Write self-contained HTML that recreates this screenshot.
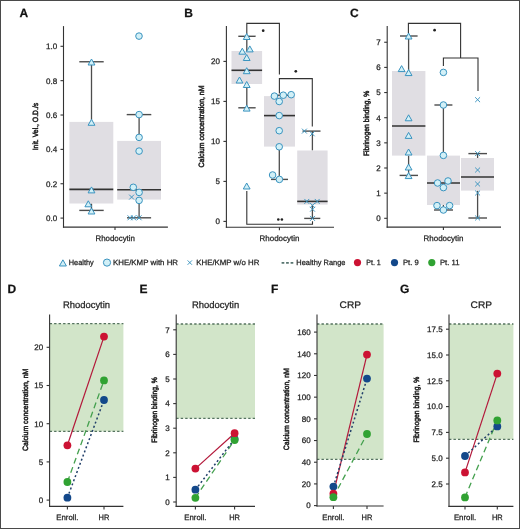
<!DOCTYPE html>
<html><head><meta charset="utf-8"><style>
html,body{margin:0;padding:0;background:#fff;}
#f{position:relative;width:520px;height:529px;overflow:hidden;background:#fff;}
svg{position:absolute;left:0;top:0;will-change:transform;}
svg text{font-family:"Liberation Sans", sans-serif;stroke:#222;stroke-width:0.25px;text-rendering:geometricPrecision;} svg text.rl{stroke-width:0.5px;}
</style></head><body><div id="f">
<svg width="520" height="529" viewBox="0 0 520 529">
<rect x="0" y="0" width="520" height="529" fill="#fff"/>
<text x="19.4" y="17.2" font-size="12" text-anchor="start" font-weight="bold" fill="#111">A</text>
<line x1="91.5" y1="61.76" x2="91.5" y2="121.89" stroke="#4d4d4d" stroke-width="1.3" stroke-linecap="butt"/>
<line x1="91.5" y1="203.5" x2="91.5" y2="210.4" stroke="#4d4d4d" stroke-width="1.3" stroke-linecap="butt"/>
<rect x="69.4" y="121.89" width="43.9" height="81.61" fill="#e0dee3"/>
<line x1="69.4" y1="189.4" x2="113.3" y2="189.4" stroke="#333333" stroke-width="1.6" stroke-linecap="butt"/>
<line x1="79.3" y1="61.76" x2="103.7" y2="61.76" stroke="#4d4d4d" stroke-width="1.4" stroke-linecap="butt"/>
<line x1="79.3" y1="210.4" x2="103.7" y2="210.4" stroke="#4d4d4d" stroke-width="1.4" stroke-linecap="butt"/>
<line x1="139.1" y1="114.6" x2="139.1" y2="140.9" stroke="#4d4d4d" stroke-width="1.3" stroke-linecap="butt"/>
<line x1="139.1" y1="199.6" x2="139.1" y2="217.8" stroke="#4d4d4d" stroke-width="1.3" stroke-linecap="butt"/>
<rect x="117.2" y="140.9" width="43.8" height="58.7" fill="#e0dee3"/>
<line x1="117.2" y1="189.7" x2="161.0" y2="189.7" stroke="#333333" stroke-width="1.6" stroke-linecap="butt"/>
<line x1="126.7" y1="114.6" x2="151.3" y2="114.6" stroke="#4d4d4d" stroke-width="1.4" stroke-linecap="butt"/>
<line x1="127.0" y1="217.8" x2="151.1" y2="217.8" stroke="#4d4d4d" stroke-width="1.4" stroke-linecap="butt"/>
<line x1="63.5" y1="26.1" x2="63.5" y2="227.65" stroke="#333333" stroke-width="1.1" stroke-linecap="butt"/>
<line x1="60.5" y1="218.1" x2="63.5" y2="218.1" stroke="#333333" stroke-width="1.1" stroke-linecap="butt"/>
<text x="57.1" y="220.95" font-size="8" text-anchor="end" font-weight="normal" fill="#222222">0.0</text>
<line x1="60.5" y1="183.74" x2="63.5" y2="183.74" stroke="#333333" stroke-width="1.1" stroke-linecap="butt"/>
<text x="57.1" y="186.59" font-size="8" text-anchor="end" font-weight="normal" fill="#222222">0.2</text>
<line x1="60.5" y1="149.38" x2="63.5" y2="149.38" stroke="#333333" stroke-width="1.1" stroke-linecap="butt"/>
<text x="57.1" y="152.23" font-size="8" text-anchor="end" font-weight="normal" fill="#222222">0.4</text>
<line x1="60.5" y1="115.02" x2="63.5" y2="115.02" stroke="#333333" stroke-width="1.1" stroke-linecap="butt"/>
<text x="57.1" y="117.87" font-size="8" text-anchor="end" font-weight="normal" fill="#222222">0.6</text>
<line x1="60.5" y1="80.66" x2="63.5" y2="80.66" stroke="#333333" stroke-width="1.1" stroke-linecap="butt"/>
<text x="57.1" y="83.51" font-size="8" text-anchor="end" font-weight="normal" fill="#222222">0.8</text>
<line x1="60.5" y1="46.3" x2="63.5" y2="46.3" stroke="#333333" stroke-width="1.1" stroke-linecap="butt"/>
<text x="57.1" y="49.15" font-size="8" text-anchor="end" font-weight="normal" fill="#222222">1.0</text>
<line x1="62.95" y1="227.1" x2="167.9" y2="227.1" stroke="#333333" stroke-width="1.1" stroke-linecap="butt"/>
<line x1="115" y1="227.1" x2="115" y2="230.1" stroke="#333333" stroke-width="1.1" stroke-linecap="butt"/>
<text x="115.2" y="241" font-size="8" text-anchor="middle" font-weight="normal" fill="#222222" textLength="39.5" lengthAdjust="spacingAndGlyphs">Rhodocytin</text>
<path d="M91.5,59.01 L94.90,64.99 L88.10,64.99 Z" fill="#d2f0f7" stroke="#3a93bf" stroke-width="1" stroke-linejoin="miter"/>
<path d="M91.5,119.31 L94.90,125.29 L88.10,125.29 Z" fill="#d2f0f7" stroke="#3a93bf" stroke-width="1" stroke-linejoin="miter"/>
<path d="M91.5,186.91 L94.90,192.89 L88.10,192.89 Z" fill="#d2f0f7" stroke="#3a93bf" stroke-width="1" stroke-linejoin="miter"/>
<path d="M88.3,200.81 L91.70,206.79 L84.90,206.79 Z" fill="#d2f0f7" stroke="#3a93bf" stroke-width="1" stroke-linejoin="miter"/>
<path d="M91.5,208.01 L94.90,213.99 L88.10,213.99 Z" fill="#d2f0f7" stroke="#3a93bf" stroke-width="1" stroke-linejoin="miter"/>
<circle cx="139" cy="36.1" r="3.3" fill="#d2f0f7" stroke="#3a93bf" stroke-width="1"/>
<circle cx="139.1" cy="114.6" r="3.3" fill="#d2f0f7" stroke="#3a93bf" stroke-width="1"/>
<circle cx="139.1" cy="137.4" r="3.3" fill="#d2f0f7" stroke="#3a93bf" stroke-width="1"/>
<circle cx="139.1" cy="151.1" r="3.3" fill="#d2f0f7" stroke="#3a93bf" stroke-width="1"/>
<circle cx="133.3" cy="187.3" r="3.3" fill="#d2f0f7" stroke="#3a93bf" stroke-width="1"/>
<circle cx="139.1" cy="192.4" r="3.3" fill="#d2f0f7" stroke="#3a93bf" stroke-width="1"/>
<circle cx="139.1" cy="200.4" r="3.3" fill="#d2f0f7" stroke="#3a93bf" stroke-width="1"/>
<path d="M129.15,194.65 L134.05,199.55 M129.15,199.55 L134.05,194.65" stroke="#3a93bf" stroke-width="0.95"/>
<path d="M127.55,215.35 L132.45,220.25 M127.55,220.25 L132.45,215.35" stroke="#3a93bf" stroke-width="0.95"/>
<path d="M131.15,215.35 L136.05,220.25 M131.15,220.25 L136.05,215.35" stroke="#3a93bf" stroke-width="0.95"/>
<path d="M136.65,215.35 L141.55,220.25 M136.65,220.25 L141.55,215.35" stroke="#3a93bf" stroke-width="0.95"/>
<text x="38.2" y="126.5" font-size="7.6" text-anchor="middle" font-weight="normal" fill="#222222" textLength="47.6" lengthAdjust="spacingAndGlyphs" transform="rotate(-90 38.2 126.5)" class="rl">Init. Vel., O.D./s</text>
<text x="184.2" y="17.2" font-size="12" text-anchor="start" font-weight="bold" fill="#111">B</text>
<line x1="246.8" y1="36.3" x2="246.8" y2="51.0" stroke="#4d4d4d" stroke-width="1.3" stroke-linecap="butt"/>
<line x1="246.8" y1="84.0" x2="246.8" y2="107.8" stroke="#4d4d4d" stroke-width="1.3" stroke-linecap="butt"/>
<rect x="231.5" y="51.0" width="30.6" height="33.0" fill="#e0dee3"/>
<line x1="231.5" y1="70.3" x2="262.1" y2="70.3" stroke="#333333" stroke-width="1.6" stroke-linecap="butt"/>
<line x1="238.3" y1="36.3" x2="255.6" y2="36.3" stroke="#4d4d4d" stroke-width="1.4" stroke-linecap="butt"/>
<line x1="238.3" y1="107.8" x2="255.6" y2="107.8" stroke="#4d4d4d" stroke-width="1.4" stroke-linecap="butt"/>
<line x1="279.3" y1="95.2" x2="279.3" y2="96.1" stroke="#4d4d4d" stroke-width="1.3" stroke-linecap="butt"/>
<line x1="279.3" y1="146.6" x2="279.3" y2="179.4" stroke="#4d4d4d" stroke-width="1.3" stroke-linecap="butt"/>
<rect x="264.0" y="96.1" width="31.0" height="50.5" fill="#e0dee3"/>
<line x1="264.0" y1="115.6" x2="295.0" y2="115.6" stroke="#333333" stroke-width="1.6" stroke-linecap="butt"/>
<line x1="271.0" y1="95.2" x2="288.0" y2="95.2" stroke="#4d4d4d" stroke-width="1.4" stroke-linecap="butt"/>
<line x1="271.0" y1="179.4" x2="288.0" y2="179.4" stroke="#4d4d4d" stroke-width="1.4" stroke-linecap="butt"/>
<line x1="312.4" y1="131.1" x2="312.4" y2="150.5" stroke="#4d4d4d" stroke-width="1.3" stroke-linecap="butt"/>
<line x1="312.4" y1="204.6" x2="312.4" y2="218.4" stroke="#4d4d4d" stroke-width="1.3" stroke-linecap="butt"/>
<rect x="297.2" y="150.5" width="30.4" height="54.1" fill="#e0dee3"/>
<line x1="297.2" y1="201.4" x2="327.6" y2="201.4" stroke="#333333" stroke-width="1.6" stroke-linecap="butt"/>
<line x1="302.5" y1="131.1" x2="320.5" y2="131.1" stroke="#4d4d4d" stroke-width="1.4" stroke-linecap="butt"/>
<line x1="304.2" y1="218.4" x2="320.3" y2="218.4" stroke="#4d4d4d" stroke-width="1.4" stroke-linecap="butt"/>
<line x1="226.4" y1="26.1" x2="226.4" y2="227.75" stroke="#333333" stroke-width="1.1" stroke-linecap="butt"/>
<line x1="223.4" y1="221.4" x2="226.4" y2="221.4" stroke="#333333" stroke-width="1.1" stroke-linecap="butt"/>
<text x="220.0" y="224.25" font-size="8" text-anchor="end" font-weight="normal" fill="#222222">0</text>
<line x1="223.4" y1="181.4" x2="226.4" y2="181.4" stroke="#333333" stroke-width="1.1" stroke-linecap="butt"/>
<text x="220.0" y="184.25" font-size="8" text-anchor="end" font-weight="normal" fill="#222222">5</text>
<line x1="223.4" y1="141.4" x2="226.4" y2="141.4" stroke="#333333" stroke-width="1.1" stroke-linecap="butt"/>
<text x="220.0" y="144.25" font-size="8" text-anchor="end" font-weight="normal" fill="#222222">10</text>
<line x1="223.4" y1="101.4" x2="226.4" y2="101.4" stroke="#333333" stroke-width="1.1" stroke-linecap="butt"/>
<text x="220.0" y="104.25" font-size="8" text-anchor="end" font-weight="normal" fill="#222222">15</text>
<line x1="223.4" y1="61.4" x2="226.4" y2="61.4" stroke="#333333" stroke-width="1.1" stroke-linecap="butt"/>
<text x="220.0" y="64.25" font-size="8" text-anchor="end" font-weight="normal" fill="#222222">20</text>
<line x1="225.85" y1="227.2" x2="334" y2="227.2" stroke="#333333" stroke-width="1.1" stroke-linecap="butt"/>
<line x1="279.4" y1="227.2" x2="279.4" y2="230.2" stroke="#333333" stroke-width="1.1" stroke-linecap="butt"/>
<text x="279.5" y="241" font-size="8" text-anchor="middle" font-weight="normal" fill="#222222" textLength="39.8" lengthAdjust="spacingAndGlyphs">Rhodocytin</text>
<text x="203.6" y="126.5" font-size="7.7" text-anchor="middle" font-weight="normal" fill="#222222" textLength="81.9" lengthAdjust="spacingAndGlyphs" transform="rotate(-90 203.6 126.5)" class="rl">Calcium concentration, nM</text>
<path d="M246.8,34 V23.4 H279.4 V74.4" stroke="#333333" stroke-width="1.1" fill="none"/>
<path d="M279.4,93.5 V78.6 H312.3 V126.4" stroke="#333333" stroke-width="1.1" fill="none"/>
<path d="M246.8,191 V224.2 H312.5 V221.3" stroke="#333333" stroke-width="1.1" fill="none"/>
<circle cx="263.2" cy="30.7" r="1.35" fill="#222"/>
<circle cx="295.8" cy="71.3" r="1.35" fill="#222"/>
<circle cx="278.3" cy="219.5" r="1.3" fill="#222"/>
<circle cx="281.9" cy="219.5" r="1.3" fill="#222"/>
<path d="M246.7,33.51 L250.10,39.49 L243.30,39.49 Z" fill="#d2f0f7" stroke="#3a93bf" stroke-width="1" stroke-linejoin="miter"/>
<path d="M242.3,48.21 L245.70,54.19 L238.90,54.19 Z" fill="#d2f0f7" stroke="#3a93bf" stroke-width="1" stroke-linejoin="miter"/>
<path d="M249.8,45.91 L253.20,51.89 L246.40,51.89 Z" fill="#d2f0f7" stroke="#3a93bf" stroke-width="1" stroke-linejoin="miter"/>
<path d="M246.7,54.51 L250.10,60.49 L243.30,60.49 Z" fill="#d2f0f7" stroke="#3a93bf" stroke-width="1" stroke-linejoin="miter"/>
<path d="M246.7,67.71 L250.10,73.69 L243.30,73.69 Z" fill="#d2f0f7" stroke="#3a93bf" stroke-width="1" stroke-linejoin="miter"/>
<path d="M239.5,77.01 L242.90,82.99 L236.10,82.99 Z" fill="#d2f0f7" stroke="#3a93bf" stroke-width="1" stroke-linejoin="miter"/>
<path d="M246.7,81.51 L250.10,87.49 L243.30,87.49 Z" fill="#d2f0f7" stroke="#3a93bf" stroke-width="1" stroke-linejoin="miter"/>
<path d="M246.7,105.11 L250.10,111.09 L243.30,111.09 Z" fill="#d2f0f7" stroke="#3a93bf" stroke-width="1" stroke-linejoin="miter"/>
<path d="M246.7,183.01 L250.10,188.99 L243.30,188.99 Z" fill="#d2f0f7" stroke="#3a93bf" stroke-width="1" stroke-linejoin="miter"/>
<circle cx="274.4" cy="96.1" r="3.3" fill="#d2f0f7" stroke="#3a93bf" stroke-width="1"/>
<circle cx="283.3" cy="95.2" r="3.3" fill="#d2f0f7" stroke="#3a93bf" stroke-width="1"/>
<circle cx="291.2" cy="94.7" r="3.3" fill="#d2f0f7" stroke="#3a93bf" stroke-width="1"/>
<circle cx="279.2" cy="101.5" r="3.3" fill="#d2f0f7" stroke="#3a93bf" stroke-width="1"/>
<circle cx="279.2" cy="115.6" r="3.3" fill="#d2f0f7" stroke="#3a93bf" stroke-width="1"/>
<circle cx="279.2" cy="130.7" r="3.3" fill="#d2f0f7" stroke="#3a93bf" stroke-width="1"/>
<circle cx="279.2" cy="146.8" r="3.3" fill="#d2f0f7" stroke="#3a93bf" stroke-width="1"/>
<circle cx="272.6" cy="175.0" r="3.3" fill="#d2f0f7" stroke="#3a93bf" stroke-width="1"/>
<circle cx="279.4" cy="179.4" r="3.3" fill="#d2f0f7" stroke="#3a93bf" stroke-width="1"/>
<path d="M301.95,128.65 L306.85,133.55 M301.95,133.55 L306.85,128.65" stroke="#3a93bf" stroke-width="0.95"/>
<path d="M309.75,131.35 L314.65,136.25 M309.75,136.25 L314.65,131.35" stroke="#3a93bf" stroke-width="0.95"/>
<path d="M304.35,198.95 L309.25,203.85 M304.35,203.85 L309.25,198.95" stroke="#3a93bf" stroke-width="0.95"/>
<path d="M314.75,198.95 L319.65,203.85 M314.75,203.85 L319.65,198.95" stroke="#3a93bf" stroke-width="0.95"/>
<path d="M310.05,202.95 L314.95,207.85 M310.05,207.85 L314.95,202.95" stroke="#3a93bf" stroke-width="0.95"/>
<path d="M310.05,206.75 L314.95,211.65 M310.05,211.65 L314.95,206.75" stroke="#3a93bf" stroke-width="0.95"/>
<path d="M310.05,215.95 L314.95,220.85 M310.05,220.85 L314.95,215.95" stroke="#3a93bf" stroke-width="0.95"/>
<text x="350.0" y="17.2" font-size="12" text-anchor="start" font-weight="bold" fill="#111">C</text>
<line x1="408.6" y1="36.0" x2="408.6" y2="71.0" stroke="#4d4d4d" stroke-width="1.3" stroke-linecap="butt"/>
<line x1="408.6" y1="155.6" x2="408.6" y2="175.4" stroke="#4d4d4d" stroke-width="1.3" stroke-linecap="butt"/>
<rect x="392.0" y="71.0" width="33.4" height="84.6" fill="#e0dee3"/>
<line x1="392.0" y1="126.0" x2="425.4" y2="126.0" stroke="#333333" stroke-width="1.6" stroke-linecap="butt"/>
<line x1="400.0" y1="36.0" x2="417.6" y2="36.0" stroke="#4d4d4d" stroke-width="1.4" stroke-linecap="butt"/>
<line x1="399.6" y1="175.4" x2="418.0" y2="175.4" stroke="#4d4d4d" stroke-width="1.4" stroke-linecap="butt"/>
<line x1="443.4" y1="105.0" x2="443.4" y2="155.6" stroke="#4d4d4d" stroke-width="1.3" stroke-linecap="butt"/>
<line x1="443.4" y1="205.0" x2="443.4" y2="210.0" stroke="#4d4d4d" stroke-width="1.3" stroke-linecap="butt"/>
<rect x="427.0" y="155.6" width="33.0" height="49.4" fill="#e0dee3"/>
<line x1="427.0" y1="183.0" x2="460.0" y2="183.0" stroke="#333333" stroke-width="1.6" stroke-linecap="butt"/>
<line x1="434.4" y1="105.0" x2="452.4" y2="105.0" stroke="#4d4d4d" stroke-width="1.4" stroke-linecap="butt"/>
<line x1="434.0" y1="210.0" x2="453.0" y2="210.0" stroke="#4d4d4d" stroke-width="1.4" stroke-linecap="butt"/>
<line x1="477.6" y1="153.6" x2="477.6" y2="158.0" stroke="#4d4d4d" stroke-width="1.3" stroke-linecap="butt"/>
<line x1="477.6" y1="190.6" x2="477.6" y2="218.0" stroke="#4d4d4d" stroke-width="1.3" stroke-linecap="butt"/>
<rect x="461.0" y="158.0" width="33.0" height="32.6" fill="#e0dee3"/>
<line x1="461.0" y1="177.0" x2="494.0" y2="177.0" stroke="#333333" stroke-width="1.6" stroke-linecap="butt"/>
<line x1="468.4" y1="153.6" x2="487.0" y2="153.6" stroke="#4d4d4d" stroke-width="1.4" stroke-linecap="butt"/>
<line x1="468.4" y1="218.0" x2="487.0" y2="218.0" stroke="#4d4d4d" stroke-width="1.4" stroke-linecap="butt"/>
<line x1="387.2" y1="26.1" x2="387.2" y2="227.65" stroke="#333333" stroke-width="1.1" stroke-linecap="butt"/>
<line x1="384.2" y1="218.3" x2="387.2" y2="218.3" stroke="#333333" stroke-width="1.1" stroke-linecap="butt"/>
<text x="380.8" y="221.15" font-size="8" text-anchor="end" font-weight="normal" fill="#222222">0</text>
<line x1="384.2" y1="193.15" x2="387.2" y2="193.15" stroke="#333333" stroke-width="1.1" stroke-linecap="butt"/>
<text x="380.8" y="196.0" font-size="8" text-anchor="end" font-weight="normal" fill="#222222">1</text>
<line x1="384.2" y1="168.0" x2="387.2" y2="168.0" stroke="#333333" stroke-width="1.1" stroke-linecap="butt"/>
<text x="380.8" y="170.85" font-size="8" text-anchor="end" font-weight="normal" fill="#222222">2</text>
<line x1="384.2" y1="142.85" x2="387.2" y2="142.85" stroke="#333333" stroke-width="1.1" stroke-linecap="butt"/>
<text x="380.8" y="145.7" font-size="8" text-anchor="end" font-weight="normal" fill="#222222">3</text>
<line x1="384.2" y1="117.7" x2="387.2" y2="117.7" stroke="#333333" stroke-width="1.1" stroke-linecap="butt"/>
<text x="380.8" y="120.55" font-size="8" text-anchor="end" font-weight="normal" fill="#222222">4</text>
<line x1="384.2" y1="92.55" x2="387.2" y2="92.55" stroke="#333333" stroke-width="1.1" stroke-linecap="butt"/>
<text x="380.8" y="95.4" font-size="8" text-anchor="end" font-weight="normal" fill="#222222">5</text>
<line x1="384.2" y1="67.4" x2="387.2" y2="67.4" stroke="#333333" stroke-width="1.1" stroke-linecap="butt"/>
<text x="380.8" y="70.25" font-size="8" text-anchor="end" font-weight="normal" fill="#222222">6</text>
<line x1="384.2" y1="42.25" x2="387.2" y2="42.25" stroke="#333333" stroke-width="1.1" stroke-linecap="butt"/>
<text x="380.8" y="45.1" font-size="8" text-anchor="end" font-weight="normal" fill="#222222">7</text>
<line x1="386.65" y1="227.1" x2="501" y2="227.1" stroke="#333333" stroke-width="1.1" stroke-linecap="butt"/>
<line x1="443.4" y1="227.1" x2="443.4" y2="230.1" stroke="#333333" stroke-width="1.1" stroke-linecap="butt"/>
<text x="443.5" y="241" font-size="8" text-anchor="middle" font-weight="normal" fill="#222222" textLength="39.8" lengthAdjust="spacingAndGlyphs">Rhodocytin</text>
<text x="368.8" y="123.4" font-size="7.7" text-anchor="middle" font-weight="normal" fill="#222222" textLength="65.3" lengthAdjust="spacingAndGlyphs" transform="rotate(-90 368.8 123.4)" class="rl">Fibrinogen binding, %</text>
<path d="M408.4,33 V23.4 H460.6 V58" stroke="#333333" stroke-width="1.1" fill="none"/>
<path d="M443.4,66 V58 H478 V91" stroke="#333333" stroke-width="1.1" fill="none"/>
<circle cx="434.6" cy="30.2" r="1.35" fill="#222"/>
<path d="M408.6,33.01 L412.00,38.99 L405.20,38.99 Z" fill="#d2f0f7" stroke="#3a93bf" stroke-width="1" stroke-linejoin="miter"/>
<path d="M401.6,65.61 L405.00,71.59 L398.20,71.59 Z" fill="#d2f0f7" stroke="#3a93bf" stroke-width="1" stroke-linejoin="miter"/>
<path d="M408.6,69.61 L412.00,75.59 L405.20,75.59 Z" fill="#d2f0f7" stroke="#3a93bf" stroke-width="1" stroke-linejoin="miter"/>
<path d="M408.6,114.81 L412.00,120.79 L405.20,120.79 Z" fill="#d2f0f7" stroke="#3a93bf" stroke-width="1" stroke-linejoin="miter"/>
<path d="M408.6,132.41 L412.00,138.39 L405.20,138.39 Z" fill="#d2f0f7" stroke="#3a93bf" stroke-width="1" stroke-linejoin="miter"/>
<path d="M408.6,149.01 L412.00,154.99 L405.20,154.99 Z" fill="#d2f0f7" stroke="#3a93bf" stroke-width="1" stroke-linejoin="miter"/>
<path d="M408.6,164.01 L412.00,169.99 L405.20,169.99 Z" fill="#d2f0f7" stroke="#3a93bf" stroke-width="1" stroke-linejoin="miter"/>
<path d="M408.6,172.61 L412.00,178.59 L405.20,178.59 Z" fill="#d2f0f7" stroke="#3a93bf" stroke-width="1" stroke-linejoin="miter"/>
<circle cx="443.4" cy="72.4" r="3.3" fill="#d2f0f7" stroke="#3a93bf" stroke-width="1"/>
<circle cx="443.4" cy="105.0" r="3.3" fill="#d2f0f7" stroke="#3a93bf" stroke-width="1"/>
<circle cx="443.4" cy="155.4" r="3.3" fill="#d2f0f7" stroke="#3a93bf" stroke-width="1"/>
<circle cx="437.6" cy="183.0" r="3.3" fill="#d2f0f7" stroke="#3a93bf" stroke-width="1"/>
<circle cx="448.0" cy="181.0" r="3.3" fill="#d2f0f7" stroke="#3a93bf" stroke-width="1"/>
<circle cx="443.4" cy="187.6" r="3.3" fill="#d2f0f7" stroke="#3a93bf" stroke-width="1"/>
<circle cx="437.0" cy="205.6" r="3.3" fill="#d2f0f7" stroke="#3a93bf" stroke-width="1"/>
<circle cx="449.6" cy="205.6" r="3.3" fill="#d2f0f7" stroke="#3a93bf" stroke-width="1"/>
<circle cx="443.4" cy="210.0" r="3.3" fill="#d2f0f7" stroke="#3a93bf" stroke-width="1"/>
<path d="M475.15,97.25 L480.05,102.15 M475.15,102.15 L480.05,97.25" stroke="#3a93bf" stroke-width="0.95"/>
<path d="M475.15,151.15 L480.05,156.05 M475.15,156.05 L480.05,151.15" stroke="#3a93bf" stroke-width="0.95"/>
<path d="M475.15,167.55 L480.05,172.45 M475.15,172.45 L480.05,167.55" stroke="#3a93bf" stroke-width="0.95"/>
<path d="M475.15,181.55 L480.05,186.45 M475.15,186.45 L480.05,181.55" stroke="#3a93bf" stroke-width="0.95"/>
<path d="M475.15,190.55 L480.05,195.45 M475.15,195.45 L480.05,190.55" stroke="#3a93bf" stroke-width="0.95"/>
<path d="M475.15,215.55 L480.05,220.45 M475.15,220.45 L480.05,215.55" stroke="#3a93bf" stroke-width="0.95"/>
<path d="M62.9,259.82 L66.40,265.98 L59.40,265.98 Z" fill="#d2f0f7" stroke="#3a93bf" stroke-width="1" stroke-linejoin="miter"/>
<text x="68.8" y="265.2" font-size="7.6" text-anchor="start" font-weight="normal" fill="#222222" textLength="25" lengthAdjust="spacingAndGlyphs">Healthy</text>
<circle cx="107" cy="262.6" r="3.6" fill="#d2f0f7" stroke="#3a93bf" stroke-width="1"/>
<text x="113" y="265.2" font-size="7.6" text-anchor="start" font-weight="normal" fill="#222222" textLength="65" lengthAdjust="spacingAndGlyphs">KHE/KMP with HR</text>
<path d="M187.6,260.4 L192.0,264.8 M187.6,264.8 L192.0,260.4" stroke="#3a93bf" stroke-width="0.95"/>
<text x="196.3" y="265.2" font-size="7.6" text-anchor="start" font-weight="normal" fill="#222222" textLength="63" lengthAdjust="spacingAndGlyphs">KHE/KMP w/o HR</text>
<line x1="281.6" y1="262.8" x2="293.3" y2="262.8" stroke="#587570" stroke-width="1.8" stroke-linecap="butt" stroke-dasharray="2.7 1.8"/>
<text x="296.3" y="265.2" font-size="7.6" text-anchor="start" font-weight="normal" fill="#222222" textLength="49.2" lengthAdjust="spacingAndGlyphs">Healthy Range</text>
<circle cx="357.5" cy="262.6" r="3.6" fill="#cc1233"/>
<text x="366.3" y="265.2" font-size="7.6" text-anchor="start" font-weight="normal" fill="#222222" textLength="14.5" lengthAdjust="spacingAndGlyphs">Pt. 1</text>
<circle cx="394.5" cy="262.6" r="3.6" fill="#13488a"/>
<text x="403" y="265.2" font-size="7.6" text-anchor="start" font-weight="normal" fill="#222222" textLength="15.7" lengthAdjust="spacingAndGlyphs">Pt. 9</text>
<circle cx="431.8" cy="262.6" r="3.6" fill="#30a232"/>
<text x="440" y="265.2" font-size="7.6" text-anchor="start" font-weight="normal" fill="#222222" textLength="19.5" lengthAdjust="spacingAndGlyphs">Pt. 11</text>
<text x="7.6" y="293.4" font-size="12" text-anchor="start" font-weight="bold" fill="#111">D</text>
<text x="86.5" y="308.4" font-size="9.5" text-anchor="middle" font-weight="normal" fill="#222222" textLength="47.1" lengthAdjust="spacingAndGlyphs">Rhodocytin</text>
<rect x="49.6" y="323.6" width="73.8" height="107.8" fill="#d2e5c9"/>
<line x1="49.6" y1="323.6" x2="123.4" y2="323.6" stroke="#55735f" stroke-width="1.3" stroke-linecap="butt" stroke-dasharray="2.4 2.1"/>
<line x1="49.6" y1="431.4" x2="123.4" y2="431.4" stroke="#55735f" stroke-width="1.3" stroke-linecap="butt" stroke-dasharray="2.4 2.1"/>
<line x1="49.6" y1="314.4" x2="49.6" y2="506.95" stroke="#333333" stroke-width="1.1" stroke-linecap="butt"/>
<line x1="46.6" y1="500.1" x2="49.6" y2="500.1" stroke="#333333" stroke-width="1.1" stroke-linecap="butt"/>
<text x="43.2" y="502.95" font-size="8" text-anchor="end" font-weight="normal" fill="#222222">0</text>
<line x1="46.6" y1="461.9" x2="49.6" y2="461.9" stroke="#333333" stroke-width="1.1" stroke-linecap="butt"/>
<text x="43.2" y="464.75" font-size="8" text-anchor="end" font-weight="normal" fill="#222222">5</text>
<line x1="46.6" y1="423.7" x2="49.6" y2="423.7" stroke="#333333" stroke-width="1.1" stroke-linecap="butt"/>
<text x="43.2" y="426.55" font-size="8" text-anchor="end" font-weight="normal" fill="#222222">10</text>
<line x1="46.6" y1="385.5" x2="49.6" y2="385.5" stroke="#333333" stroke-width="1.1" stroke-linecap="butt"/>
<text x="43.2" y="388.35" font-size="8" text-anchor="end" font-weight="normal" fill="#222222">15</text>
<line x1="46.6" y1="347.3" x2="49.6" y2="347.3" stroke="#333333" stroke-width="1.1" stroke-linecap="butt"/>
<text x="43.2" y="350.15" font-size="8" text-anchor="end" font-weight="normal" fill="#222222">20</text>
<line x1="49.05" y1="506.4" x2="123.4" y2="506.4" stroke="#333333" stroke-width="1.1" stroke-linecap="butt"/>
<line x1="67.4" y1="506.4" x2="67.4" y2="509.4" stroke="#333333" stroke-width="1.1" stroke-linecap="butt"/>
<line x1="104.0" y1="506.4" x2="104.0" y2="509.4" stroke="#333333" stroke-width="1.1" stroke-linecap="butt"/>
<text x="67.4" y="520" font-size="7.9" text-anchor="middle" font-weight="normal" fill="#222222" textLength="22.2" lengthAdjust="spacingAndGlyphs">Enroll.</text>
<text x="104.0" y="520" font-size="7.9" text-anchor="middle" font-weight="normal" fill="#222222" textLength="10.8" lengthAdjust="spacingAndGlyphs">HR</text>
<text x="28" y="409.8" font-size="7.7" text-anchor="middle" font-weight="normal" fill="#222222" textLength="82.2" lengthAdjust="spacingAndGlyphs" transform="rotate(-90 28 409.8)" class="rl">Calcium concentration, nM</text>
<line x1="67.4" y1="445.3" x2="104.0" y2="336.6" stroke="#b3183a" stroke-width="1.2" stroke-linecap="butt"/>
<line x1="67.4" y1="482.0" x2="104.0" y2="380.4" stroke="#44a04e" stroke-width="1.3" stroke-linecap="butt" stroke-dasharray="6 3.8"/>
<line x1="67.4" y1="497.7" x2="104.0" y2="400.0" stroke="#22406a" stroke-width="1.5" stroke-linecap="butt" stroke-dasharray="2 2.4"/>
<circle cx="67.4" cy="445.3" r="3.9" fill="#cc1233"/>
<circle cx="67.4" cy="482.0" r="3.9" fill="#30a232"/>
<circle cx="67.4" cy="497.7" r="3.9" fill="#13488a"/>
<circle cx="104.0" cy="336.6" r="3.9" fill="#cc1233"/>
<circle cx="104.0" cy="380.4" r="3.9" fill="#30a232"/>
<circle cx="104.0" cy="400.0" r="3.9" fill="#13488a"/>
<text x="139.6" y="293.4" font-size="12" text-anchor="start" font-weight="bold" fill="#111">E</text>
<text x="215.6" y="308.4" font-size="9.5" text-anchor="middle" font-weight="normal" fill="#222222" textLength="47.1" lengthAdjust="spacingAndGlyphs">Rhodocytin</text>
<rect x="176.2" y="324.0" width="78.8" height="94.4" fill="#d2e5c9"/>
<line x1="176.2" y1="324.0" x2="255.0" y2="324.0" stroke="#55735f" stroke-width="1.3" stroke-linecap="butt" stroke-dasharray="2.4 2.1"/>
<line x1="176.2" y1="418.4" x2="255.0" y2="418.4" stroke="#55735f" stroke-width="1.3" stroke-linecap="butt" stroke-dasharray="2.4 2.1"/>
<line x1="176.2" y1="314.4" x2="176.2" y2="506.95" stroke="#333333" stroke-width="1.1" stroke-linecap="butt"/>
<line x1="173.2" y1="502.0" x2="176.2" y2="502.0" stroke="#333333" stroke-width="1.1" stroke-linecap="butt"/>
<text x="169.8" y="504.85" font-size="8" text-anchor="end" font-weight="normal" fill="#222222">0</text>
<line x1="173.2" y1="477.4" x2="176.2" y2="477.4" stroke="#333333" stroke-width="1.1" stroke-linecap="butt"/>
<text x="169.8" y="480.25" font-size="8" text-anchor="end" font-weight="normal" fill="#222222">1</text>
<line x1="173.2" y1="452.8" x2="176.2" y2="452.8" stroke="#333333" stroke-width="1.1" stroke-linecap="butt"/>
<text x="169.8" y="455.65" font-size="8" text-anchor="end" font-weight="normal" fill="#222222">2</text>
<line x1="173.2" y1="428.2" x2="176.2" y2="428.2" stroke="#333333" stroke-width="1.1" stroke-linecap="butt"/>
<text x="169.8" y="431.05" font-size="8" text-anchor="end" font-weight="normal" fill="#222222">3</text>
<line x1="173.2" y1="403.6" x2="176.2" y2="403.6" stroke="#333333" stroke-width="1.1" stroke-linecap="butt"/>
<text x="169.8" y="406.45" font-size="8" text-anchor="end" font-weight="normal" fill="#222222">4</text>
<line x1="173.2" y1="379.0" x2="176.2" y2="379.0" stroke="#333333" stroke-width="1.1" stroke-linecap="butt"/>
<text x="169.8" y="381.85" font-size="8" text-anchor="end" font-weight="normal" fill="#222222">5</text>
<line x1="173.2" y1="354.4" x2="176.2" y2="354.4" stroke="#333333" stroke-width="1.1" stroke-linecap="butt"/>
<text x="169.8" y="357.25" font-size="8" text-anchor="end" font-weight="normal" fill="#222222">6</text>
<line x1="173.2" y1="329.8" x2="176.2" y2="329.8" stroke="#333333" stroke-width="1.1" stroke-linecap="butt"/>
<text x="169.8" y="332.65" font-size="8" text-anchor="end" font-weight="normal" fill="#222222">7</text>
<line x1="175.65" y1="506.4" x2="255.0" y2="506.4" stroke="#333333" stroke-width="1.1" stroke-linecap="butt"/>
<line x1="195.4" y1="506.4" x2="195.4" y2="509.4" stroke="#333333" stroke-width="1.1" stroke-linecap="butt"/>
<line x1="234.6" y1="506.4" x2="234.6" y2="509.4" stroke="#333333" stroke-width="1.1" stroke-linecap="butt"/>
<text x="195.4" y="520" font-size="7.9" text-anchor="middle" font-weight="normal" fill="#222222" textLength="22.2" lengthAdjust="spacingAndGlyphs">Enroll.</text>
<text x="234.6" y="520" font-size="7.9" text-anchor="middle" font-weight="normal" fill="#222222" textLength="10.8" lengthAdjust="spacingAndGlyphs">HR</text>
<text x="156.9" y="410" font-size="7.7" text-anchor="middle" font-weight="normal" fill="#222222" textLength="65.3" lengthAdjust="spacingAndGlyphs" transform="rotate(-90 156.9 410)" class="rl">Fibrinogen binding, %</text>
<line x1="195.4" y1="468.6" x2="234.6" y2="433.2" stroke="#b3183a" stroke-width="1.2" stroke-linecap="butt"/>
<line x1="195.4" y1="497.8" x2="234.6" y2="440.0" stroke="#44a04e" stroke-width="1.3" stroke-linecap="butt" stroke-dasharray="6 3.8"/>
<line x1="195.4" y1="489.7" x2="234.6" y2="439.0" stroke="#22406a" stroke-width="1.5" stroke-linecap="butt" stroke-dasharray="2 2.4"/>
<circle cx="195.4" cy="468.6" r="3.9" fill="#cc1233"/>
<circle cx="195.4" cy="497.8" r="3.9" fill="#30a232"/>
<circle cx="195.4" cy="489.7" r="3.9" fill="#13488a"/>
<circle cx="234.6" cy="439.0" r="3.9" fill="#13488a"/>
<circle cx="234.6" cy="440.0" r="3.9" fill="#30a232"/>
<circle cx="234.6" cy="433.2" r="3.9" fill="#cc1233"/>
<text x="271" y="293.4" font-size="12" text-anchor="start" font-weight="bold" fill="#111">F</text>
<text x="350.3" y="308.4" font-size="9.5" text-anchor="middle" font-weight="normal" fill="#222222" textLength="21.4" lengthAdjust="spacingAndGlyphs">CRP</text>
<rect x="317.0" y="324.0" width="66.6" height="135.4" fill="#d2e5c9"/>
<line x1="317.0" y1="324.0" x2="383.6" y2="324.0" stroke="#55735f" stroke-width="1.3" stroke-linecap="butt" stroke-dasharray="2.4 2.1"/>
<line x1="317.0" y1="459.4" x2="383.6" y2="459.4" stroke="#55735f" stroke-width="1.3" stroke-linecap="butt" stroke-dasharray="2.4 2.1"/>
<line x1="317.0" y1="314.4" x2="317.0" y2="506.55" stroke="#333333" stroke-width="1.1" stroke-linecap="butt"/>
<line x1="314.0" y1="505.6" x2="317.0" y2="505.6" stroke="#333333" stroke-width="1.1" stroke-linecap="butt"/>
<text x="310.6" y="508.45" font-size="8" text-anchor="end" font-weight="normal" fill="#222222">0</text>
<line x1="314.0" y1="483.91" x2="317.0" y2="483.91" stroke="#333333" stroke-width="1.1" stroke-linecap="butt"/>
<text x="310.6" y="486.76" font-size="8" text-anchor="end" font-weight="normal" fill="#222222">20</text>
<line x1="314.0" y1="462.22" x2="317.0" y2="462.22" stroke="#333333" stroke-width="1.1" stroke-linecap="butt"/>
<text x="310.6" y="465.07" font-size="8" text-anchor="end" font-weight="normal" fill="#222222">40</text>
<line x1="314.0" y1="440.54" x2="317.0" y2="440.54" stroke="#333333" stroke-width="1.1" stroke-linecap="butt"/>
<text x="310.6" y="443.39" font-size="8" text-anchor="end" font-weight="normal" fill="#222222">60</text>
<line x1="314.0" y1="418.85" x2="317.0" y2="418.85" stroke="#333333" stroke-width="1.1" stroke-linecap="butt"/>
<text x="310.6" y="421.7" font-size="8" text-anchor="end" font-weight="normal" fill="#222222">80</text>
<line x1="314.0" y1="397.16" x2="317.0" y2="397.16" stroke="#333333" stroke-width="1.1" stroke-linecap="butt"/>
<text x="310.6" y="400.01" font-size="8" text-anchor="end" font-weight="normal" fill="#222222">100</text>
<line x1="314.0" y1="375.47" x2="317.0" y2="375.47" stroke="#333333" stroke-width="1.1" stroke-linecap="butt"/>
<text x="310.6" y="378.32" font-size="8" text-anchor="end" font-weight="normal" fill="#222222">120</text>
<line x1="314.0" y1="353.78" x2="317.0" y2="353.78" stroke="#333333" stroke-width="1.1" stroke-linecap="butt"/>
<text x="310.6" y="356.63" font-size="8" text-anchor="end" font-weight="normal" fill="#222222">140</text>
<line x1="314.0" y1="332.1" x2="317.0" y2="332.1" stroke="#333333" stroke-width="1.1" stroke-linecap="butt"/>
<text x="310.6" y="334.95" font-size="8" text-anchor="end" font-weight="normal" fill="#222222">160</text>
<line x1="316.45" y1="506.0" x2="383.6" y2="506.0" stroke="#333333" stroke-width="1.1" stroke-linecap="butt"/>
<line x1="333.4" y1="506.0" x2="333.4" y2="509.0" stroke="#333333" stroke-width="1.1" stroke-linecap="butt"/>
<line x1="367.0" y1="506.0" x2="367.0" y2="509.0" stroke="#333333" stroke-width="1.1" stroke-linecap="butt"/>
<text x="333.4" y="520" font-size="7.9" text-anchor="middle" font-weight="normal" fill="#222222" textLength="22.2" lengthAdjust="spacingAndGlyphs">Enroll.</text>
<text x="367.0" y="520" font-size="7.9" text-anchor="middle" font-weight="normal" fill="#222222" textLength="10.8" lengthAdjust="spacingAndGlyphs">HR</text>
<text x="288.8" y="409.2" font-size="7.7" text-anchor="middle" font-weight="normal" fill="#222222" textLength="81.9" lengthAdjust="spacingAndGlyphs" transform="rotate(-90 288.8 409.2)" class="rl">Calcium concentration, nM</text>
<line x1="333.4" y1="493.7" x2="367.0" y2="354.6" stroke="#b3183a" stroke-width="1.2" stroke-linecap="butt"/>
<line x1="333.4" y1="497.2" x2="367.0" y2="434.0" stroke="#44a04e" stroke-width="1.3" stroke-linecap="butt" stroke-dasharray="6 3.8"/>
<line x1="333.4" y1="486.6" x2="367.0" y2="378.6" stroke="#22406a" stroke-width="1.5" stroke-linecap="butt" stroke-dasharray="2 2.4"/>
<circle cx="333.4" cy="486.6" r="3.9" fill="#13488a"/>
<circle cx="333.4" cy="493.7" r="3.9" fill="#cc1233"/>
<circle cx="333.4" cy="497.2" r="3.9" fill="#30a232"/>
<circle cx="367.0" cy="354.6" r="3.9" fill="#cc1233"/>
<circle cx="367.0" cy="434.0" r="3.9" fill="#30a232"/>
<circle cx="367.0" cy="378.6" r="3.9" fill="#13488a"/>
<text x="400" y="293.4" font-size="12" text-anchor="start" font-weight="bold" fill="#111">G</text>
<text x="481.3" y="308.4" font-size="9.5" text-anchor="middle" font-weight="normal" fill="#222222" textLength="21.4" lengthAdjust="spacingAndGlyphs">CRP</text>
<rect x="449.0" y="324.0" width="64.4" height="115.4" fill="#d2e5c9"/>
<line x1="449.0" y1="324.0" x2="513.4" y2="324.0" stroke="#55735f" stroke-width="1.3" stroke-linecap="butt" stroke-dasharray="2.4 2.1"/>
<line x1="449.0" y1="439.4" x2="513.4" y2="439.4" stroke="#55735f" stroke-width="1.3" stroke-linecap="butt" stroke-dasharray="2.4 2.1"/>
<line x1="449.0" y1="314.4" x2="449.0" y2="506.95" stroke="#333333" stroke-width="1.1" stroke-linecap="butt"/>
<line x1="446.0" y1="484.0" x2="449.0" y2="484.0" stroke="#333333" stroke-width="1.1" stroke-linecap="butt"/>
<text x="442.6" y="486.85" font-size="8" text-anchor="end" font-weight="normal" fill="#222222">2.5</text>
<line x1="446.0" y1="458.2" x2="449.0" y2="458.2" stroke="#333333" stroke-width="1.1" stroke-linecap="butt"/>
<text x="442.6" y="461.05" font-size="8" text-anchor="end" font-weight="normal" fill="#222222">5.0</text>
<line x1="446.0" y1="432.4" x2="449.0" y2="432.4" stroke="#333333" stroke-width="1.1" stroke-linecap="butt"/>
<text x="442.6" y="435.25" font-size="8" text-anchor="end" font-weight="normal" fill="#222222">7.5</text>
<line x1="446.0" y1="406.6" x2="449.0" y2="406.6" stroke="#333333" stroke-width="1.1" stroke-linecap="butt"/>
<text x="442.6" y="409.45" font-size="8" text-anchor="end" font-weight="normal" fill="#222222">10.0</text>
<line x1="446.0" y1="380.8" x2="449.0" y2="380.8" stroke="#333333" stroke-width="1.1" stroke-linecap="butt"/>
<text x="442.6" y="383.65" font-size="8" text-anchor="end" font-weight="normal" fill="#222222">12.5</text>
<line x1="446.0" y1="355.0" x2="449.0" y2="355.0" stroke="#333333" stroke-width="1.1" stroke-linecap="butt"/>
<text x="442.6" y="357.85" font-size="8" text-anchor="end" font-weight="normal" fill="#222222">15.0</text>
<line x1="446.0" y1="329.2" x2="449.0" y2="329.2" stroke="#333333" stroke-width="1.1" stroke-linecap="butt"/>
<text x="442.6" y="332.05" font-size="8" text-anchor="end" font-weight="normal" fill="#222222">17.5</text>
<line x1="448.45" y1="506.4" x2="513.4" y2="506.4" stroke="#333333" stroke-width="1.1" stroke-linecap="butt"/>
<line x1="465.0" y1="506.4" x2="465.0" y2="509.4" stroke="#333333" stroke-width="1.1" stroke-linecap="butt"/>
<line x1="497.3" y1="506.4" x2="497.3" y2="509.4" stroke="#333333" stroke-width="1.1" stroke-linecap="butt"/>
<text x="465.0" y="520" font-size="7.9" text-anchor="middle" font-weight="normal" fill="#222222" textLength="22.2" lengthAdjust="spacingAndGlyphs">Enroll.</text>
<text x="497.3" y="520" font-size="7.9" text-anchor="middle" font-weight="normal" fill="#222222" textLength="10.8" lengthAdjust="spacingAndGlyphs">HR</text>
<text x="418.9" y="409.6" font-size="7.7" text-anchor="middle" font-weight="normal" fill="#222222" textLength="66" lengthAdjust="spacingAndGlyphs" transform="rotate(-90 418.9 409.6)" class="rl">Fibrinogen binding, %</text>
<line x1="465.0" y1="472.4" x2="497.3" y2="373.6" stroke="#b3183a" stroke-width="1.2" stroke-linecap="butt"/>
<line x1="465.0" y1="497.4" x2="497.3" y2="420.4" stroke="#44a04e" stroke-width="1.3" stroke-linecap="butt" stroke-dasharray="6 3.8"/>
<line x1="465.0" y1="456.0" x2="497.3" y2="426.4" stroke="#22406a" stroke-width="1.5" stroke-linecap="butt" stroke-dasharray="2 2.4"/>
<circle cx="465.0" cy="472.4" r="3.9" fill="#cc1233"/>
<circle cx="465.0" cy="497.4" r="3.9" fill="#30a232"/>
<circle cx="465.0" cy="456.0" r="3.9" fill="#13488a"/>
<circle cx="497.3" cy="373.6" r="3.9" fill="#cc1233"/>
<circle cx="497.3" cy="426.4" r="3.9" fill="#13488a"/>
<circle cx="497.3" cy="420.4" r="3.9" fill="#30a232"/>
<rect x="0.5" y="0.5" width="519" height="528" fill="none" stroke="#4a4a4a" stroke-width="1"/>
</svg></div></body></html>
